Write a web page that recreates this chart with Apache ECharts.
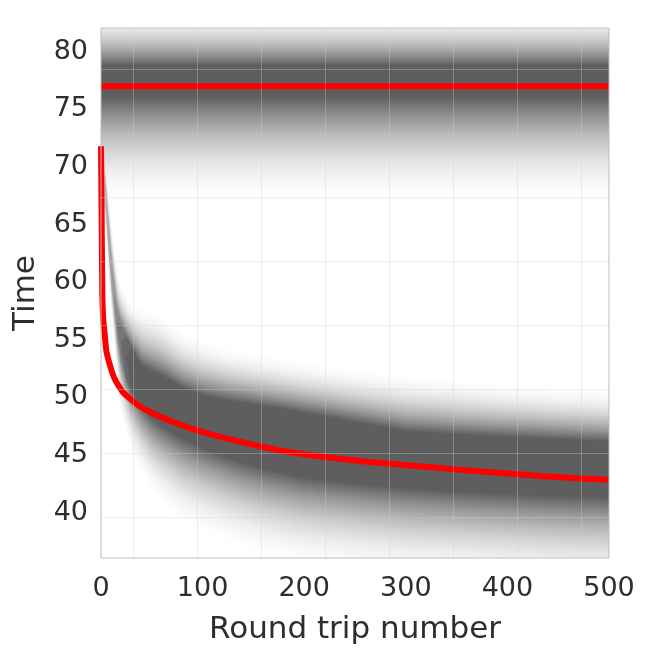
<!DOCTYPE html>
<html>
<head>
<meta charset="utf-8">
<script src="https://cdn.jsdelivr.net/npm/echarts@6/dist/echarts.min.js"></script>
<style>
  html, body { margin: 0; padding: 0; background: #fff; }
  #chart { width: 653px; height: 648px; }
</style>
</head>
<body>
<div id="chart"></div>
<script>
// tick labels
const xTicks = [0, 100, 200, 300, 400, 500];
const yTicks = [40, 45, 50, 55, 60, 65, 70, 75, 80];

// red lines
const flatX = [0, 500];
const flatY = [77.0, 77.0];
const curveX = [0, 0.8, 1.3, 2.2, 3.5, 5.2, 7.5, 10.2, 13, 16.7, 22, 29.8, 37, 46, 63, 78, 95, 117, 157, 190, 218, 260, 304, 346, 410, 455, 500];
const curveY = [71.8, 64, 59, 56.8, 55.6, 54.1, 53.2, 52.4, 51.7, 51.1, 50.4, 49.8, 49.3, 48.85, 48.15, 47.65, 47.15, 46.6, 45.75, 45.2, 44.85, 44.45, 44.1, 43.78, 43.33, 43.05, 42.85];

// upper density band (same at every round trip)
const topBandX = [0, 500];
const topFadeTop = 84;
const topDarkTop = 78.8;
const topDarkBot = 76.1;
const topFadeBot = 66.5;

// lower density band, read column by column
const bandX       = [0, 1, 2, 3, 5, 7, 10, 13, 16, 20, 25, 30, 40, 50, 60, 80, 100, 130, 160, 200, 250, 300, 350, 400, 450, 500];
const bandFadeTop = [72.5, 72, 71.5, 71, 70, 68, 65.5, 63.2, 61.5, 60, 59, 58.4, 58.2, 58, 57.5, 56, 55.3, 54.5, 54, 53.4, 52.8, 52.3, 51.9, 51.5, 51.2, 51];
const bandDarkTop = [71.5, 70.8, 70, 69.2, 67.8, 65.5, 62.3, 59.8, 57.5, 56.2, 55.2, 54.3, 52.8, 52.3, 51.9, 50.9, 50.2, 49.7, 49.3, 48.7, 47.9, 47.1, 46.8, 46.6, 46.4, 46.2];
const bandDarkBot = [70, 69.3, 68.5, 67.5, 66.3, 64, 60.5, 58, 55.5, 53.5, 51.8, 50.6, 49.2, 48.2, 47.5, 46.4, 45.6, 44.6, 43.8, 43, 42.5, 42.1, 41.8, 41.6, 41.4, 41.3];
const bandFadeBot = [68.5, 67.5, 66.5, 65.5, 64, 61.5, 57.5, 54.5, 51.5, 48, 46.5, 45, 43, 41.5, 40.5, 38.8, 37.8, 36.7, 35.8, 35, 34.5, 34, 33.8, 33.5, 33.2, 33];
const bandPeak    = [0.3, 0.33, 0.36, 0.4, 0.45, 0.5, 0.58, 0.66, 0.75, 0.85, 0.94, 1, 1, 1, 1, 1, 1, 1, 1, 1, 1, 1, 1, 1, 1, 1];

// faint grid lines of the image
const gridX = [31.8, 94.8, 157.8, 220.9, 283.9, 347.0, 410.0, 473.0];
const gridY = [78.47, 72.92, 67.37, 61.81, 56.26, 50.71, 45.15, 39.60];

const LEVELS = 64;
const DARK = 94;

function clipOf(cs) {
    return { type: 'rect', shape: { x: cs.x, y: cs.y, width: cs.width, height: cs.height } };
}

// lower band: nested opaque polygons, one per density level
function lowerBand(params, api) {
    const children = [];
    for (let k = 1; k <= LEVELS; k++) {
        const f = Math.pow(k / LEVELS, 2);
        const g = Math.round(255 - f * (255 - DARK));
        const upper = [], lower = [];
        bandX.forEach(function (x, i) {
            let top, bot;
            if (f > bandPeak[i] + 1e-9) {
                top = bot = (bandDarkTop[i] + bandDarkBot[i]) / 2;
            } else {
                const t = Math.sqrt(f / bandPeak[i]);
                top = bandFadeTop[i] + (bandDarkTop[i] - bandFadeTop[i]) * t;
                bot = bandFadeBot[i] + (bandDarkBot[i] - bandFadeBot[i]) * t;
            }
            upper.push(api.coord([x, top]));
            lower.push(api.coord([x, bot]));
        });
        children.push({
            type: 'polygon',
            shape: { points: upper.concat(lower.reverse()) },
            style: { fill: 'rgb(' + g + ',' + g + ',' + g + ')' }
        });
    }
    return { type: 'group', children: children, clipPath: clipOf(params.coordSys) };
}

// top band: one rectangle with a transparent-to-grey vertical gradient
function topBand(params, api) {
    const p0 = api.coord([topBandX[0], topFadeTop]);
    const p1 = api.coord([topBandX[1], topFadeBot]);
    const span = topFadeTop - topFadeBot;
    const level = function (y) {
        if (y > topDarkTop) return Math.pow((topFadeTop - y) / (topFadeTop - topDarkTop), 2);
        if (y >= topDarkBot) return 1;
        return Math.pow((y - topFadeBot) / (topDarkBot - topFadeBot), 2);
    };
    const ys = [];
    for (let s = 0; s <= 80; s++) ys.push(topFadeTop - span * s / 80);
    ys.push(topDarkTop, topDarkBot);
    ys.sort((a, b) => b - a);
    const stops = ys.map(y => ({
        offset: (topFadeTop - y) / span,
        color: 'rgba(' + DARK + ',' + DARK + ',' + DARK + ',' + level(y).toFixed(4) + ')'
    }));
    return {
        type: 'rect',
        shape: { x: p0[0], y: p0[1], width: p1[0] - p0[0], height: p1[1] - p0[1] },
        style: { fill: { type: 'linear', x: 0, y: 0, x2: 0, y2: 1, colorStops: stops } },
        clipPath: clipOf(params.coordSys)
    };
}

const chart = echarts.init(document.getElementById('chart'), null, { renderer: 'canvas' });

const textColor = '#2e2e2e';
const font = 'DejaVu Sans';

const option = {
    animation: false,
    backgroundColor: '#ffffff',
    grid: {
        left: 101,
        top: 28,
        width: 508,
        height: 530,
        outerBoundsMode: 'none',
        show: true,
        borderColor: '#bdbdbd',
        borderWidth: 1,
        z: 10
    },
    xAxis: {
        type: 'value',
        min: 0,
        max: 500,
        interval: 100,
        name: 'Round trip number',
        nameLocation: 'middle',
        nameGap: 56,
        nameTextStyle: { fontFamily: font, fontSize: 31, color: textColor },
        axisLine: { show: false },
        axisTick: { show: false },
        splitLine: { show: false },
        axisLabel: {
            customValues: xTicks,
            margin: 17,
            fontFamily: font,
            fontSize: 27,
            color: textColor
        }
    },
    yAxis: {
        type: 'value',
        min: 36.07,
        max: 82.06,
        name: 'Time',
        nameLocation: 'middle',
        nameGap: 60,
        nameTextStyle: { fontFamily: font, fontSize: 31, color: textColor },
        axisLine: { show: false },
        axisTick: { show: false },
        splitLine: { show: false },
        axisLabel: {
            customValues: yTicks,
            margin: 13,
            fontFamily: font,
            fontSize: 27,
            color: textColor
        }
    },
    series: [
        {
            type: 'custom',
            silent: true,
            z: 1,
            data: [[0, 60]],
            renderItem: lowerBand
        },
        {
            type: 'custom',
            silent: true,
            z: 1,
            data: [[0, 60]],
            renderItem: topBand
        },
        {
            type: 'line',
            silent: true,
            z: 2,
            data: [],
            markLine: {
                silent: true,
                symbol: 'none',
                label: { show: false },
                lineStyle: { color: 'rgba(205,205,205,0.35)', width: 1, type: 'solid' },
                data: gridX.map(v => ({ xAxis: v })).concat(gridY.map(v => ({ yAxis: v })))
            }
        },
        {
            type: 'line',
            silent: true,
            z: 3,
            clip: false,
            showSymbol: false,
            data: flatX.map((x, i) => [x, flatY[i]]),
            lineStyle: { color: '#ff0000', width: 6, cap: 'butt' }
        },
        {
            type: 'line',
            silent: true,
            z: 3,
            clip: false,
            showSymbol: false,
            smooth: 0.2,
            data: curveX.map((x, i) => [x, curveY[i]]),
            lineStyle: { color: '#ff0000', width: 6, cap: 'butt', join: 'round' }
        }
    ]
};

chart.setOption(option);
</script>
</body>
</html>
